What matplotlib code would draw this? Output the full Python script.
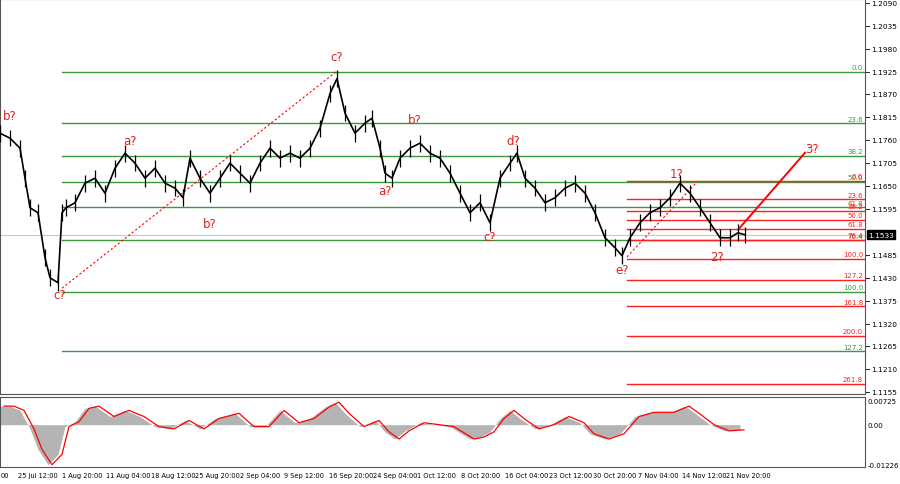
import matplotlib
matplotlib.use("Agg")
import matplotlib.pyplot as plt
import numpy as np

# price path (bar position in chart units, close price)
bar_pos = [0,10,20,25,30,38,45,50,58,62,66,75,85,95,105,115,125,135,145,155,165,175,183,190,200,210,220,230,240,250,260,270,280,290,300,310,320,330,337,345,355,365,372,380,385,392,400,410,420,430,440,450,460,470,480,490,500,510,517,525,535,545,555,565,575,585,595,605,615,622,630,640,650,660,670,680,690,700,710,720,730,738,745]
closes = [1.1777,1.1765,1.1741,1.1669,1.1598,1.1586,1.1478,1.1430,1.1418,1.1586,1.1598,1.1610,1.1657,1.1669,1.1633,1.1693,1.1729,1.1705,1.1669,1.1693,1.1657,1.1645,1.1622,1.1717,1.1669,1.1633,1.1669,1.1705,1.1681,1.1657,1.1705,1.1741,1.1717,1.1729,1.1717,1.1741,1.1789,1.1872,1.1908,1.1825,1.1777,1.1801,1.1813,1.1741,1.1681,1.1669,1.1717,1.1741,1.1753,1.1729,1.1717,1.1681,1.1633,1.1586,1.1610,1.1562,1.1669,1.1705,1.1729,1.1669,1.1645,1.1610,1.1622,1.1645,1.1657,1.1633,1.1586,1.1526,1.1502,1.1483,1.1526,1.1562,1.1586,1.1598,1.1622,1.1657,1.1633,1.1598,1.1562,1.1526,1.1526,1.1538,1.1533]

osc_pos = [0,10,20,30,38,48,58,65,75,85,95,110,125,140,155,170,185,200,215,235,250,265,280,295,310,325,335,345,360,375,385,395,405,420,435,450,460,470,480,490,500,510,520,535,550,565,580,590,605,620,635,650,670,685,695,710,725,740]
osc_vals = [0.0057,0.0057,0.0044,-0.0013,-0.0076,-0.0123,-0.0091,-0.0006,0.0009,0.0050,0.0057,0.0025,0.0044,0.0025,-0.0006,-0.0013,0.0013,-0.0013,0.0019,0.0035,-0.0006,-0.0006,0.0044,0.0006,0.0019,0.0054,0.0069,0.0035,-0.0006,0.0013,-0.0022,-0.0044,-0.0019,0.0006,0.0000,-0.0006,-0.0025,-0.0044,-0.0038,-0.0022,0.0019,0.0044,0.0019,-0.0013,0.0000,0.0025,0.0006,-0.0028,-0.0044,-0.0028,0.0025,0.0038,0.0038,0.0057,0.0035,0.0000,-0.0019,-0.0016]

fib_levels = [0.0,23.6,38.2,50.0,61.8,76.4,100.0,127.2]
fib_green_0, fib_green_100 = 1.1925, 1.1397
red_levels = [0.0,23.6,38.2,50.0,61.8,76.4,100.0,127.2,161.8,200.0,261.8]
fib_red_0, fib_red_100 = 1.1662, 1.1476

wave_labels = ["b?","c?","a?","b?","c?","a?","b?","c?","d?","e?","1?","2?","3?"]
wave_x = [10,60,130,210,337,385,415,490,513,622,677,717,812]
wave_y = [1.1820,1.1390,1.1760,1.1560,1.1960,1.1640,1.1810,1.1530,1.1760,1.1450,1.1680,1.1480,1.1740]

date_labels = ["25 Jul 12:00","1 Aug 20:00","11 Aug 04:00","18 Aug 12:00","25 Aug 20:00","2 Sep 04:00","9 Sep 12:00","16 Sep 20:00","24 Sep 04:00","1 Oct 12:00","8 Oct 20:00","16 Oct 04:00","23 Oct 12:00","30 Oct 20:00","7 Nov 04:00","14 Nov 12:00","21 Nov 20:00"]
date_pos = [18,62,106,151,195,240,284,329,373,417,461,505,549,593,638,682,726]

current = 1.1533
price_ticks = [1.2090,1.2035,1.1980,1.1925,1.1870,1.1815,1.1760,1.1705,1.1650,1.1595,1.1485,1.1430,1.1375,1.1320,1.1265,1.1210,1.1155]

fig = plt.figure(figsize=(9,4.85), dpi=100)
W, H = 900, 485
ax = fig.add_axes([0, 1-395/H, 865/W, 395/H])
ax2 = fig.add_axes([0, 1-468/H, 865/W, 70/H])
XMAX = 865
ax.set_xlim(0, XMAX); ax.set_ylim(1.1151, 1.2099)
ax2.set_xlim(0, XMAX); ax2.set_ylim(-0.0130, 0.0085)

bp = np.array(bar_pos); cl = np.array(closes)
ax.plot(bp, cl, color="black", lw=1.2, zorder=3)
ax.vlines(bp, cl-0.0020, cl+0.0020, color="black", lw=0.9, zorder=3)

for lv in fib_levels:
    p = fib_green_0 + (fib_green_100-fib_green_0)*lv/100
    ax.plot([62, XMAX], [p, p], color="#3a9a3a", lw=1.0, zorder=2)
    ax.text(XMAX-2, p+0.0004, f"{lv:.1f}", color="#3a9a3a", fontsize=5, ha="right", va="bottom")
for lv in red_levels:
    p = fib_red_0 + (fib_red_100-fib_red_0)*lv/100
    ax.plot([627, XMAX], [p, p], color="#ff2020", lw=1.0, zorder=2)
    ax.text(XMAX-2, p+0.0004, f"{lv:.1f}", color="#ff2020", fontsize=5, ha="right", va="bottom")

ax.axhline(current, color="#c8c8c8", lw=0.8, zorder=1)
ax.plot([bar_pos[9], 337], [1.1405, max(closes)+0.0018], color="red", lw=0.8, ls=(0,(2,2)))
ax.plot([627, 695], [1.1480, 1.1655], color="red", lw=0.8, ls=(0,(2,2)))
ax.plot([738, 805], [1.1545, 1.1730], color="red", lw=1.4)

for t, x, y in zip(wave_labels, wave_x, wave_y):
    ax.text(x, y, t, color="#e02020", fontsize=8.5, ha="center", va="center")

ax.set_xticks([]); ax.set_yticks([])
ax2.set_xticks([]); ax2.set_yticks([])

for t in price_ticks:
    fig.text(871/W, (t-1.1151)/(1.2099-1.1151)*395/H + (1-395/H), f"{t:.4f}", fontsize=5.3, va="center")
    ax.plot([XMAX, XMAX+4], [t, t], color="black", lw=0.6, clip_on=False)
fig.text(868/W, (current-1.1151)/(1.2099-1.1151)*395/H + (1-395/H), "1.1533", fontsize=5.3,
         va="center", color="white", bbox=dict(facecolor="black", edgecolor="black", pad=1))

op = np.array(osc_pos); ov = np.array(osc_vals)
ax2.fill_between(op, 0, ov, color="#b4b4b4", lw=0)
ax2.plot(op+4, ov, color="red", lw=0.9)
for v, s in [(0.00725, "0.00725"), (0.0, "0.00"), (-0.01226, "-0.01226")]:
    fig.text(868/W, (v+0.0130)/0.0215*70/H + (1-468/H), s, fontsize=5, va="center")

for lab, x in zip(date_labels, date_pos):
    fig.text(x/W, 1-476/H, lab, fontsize=4.8, va="center")
fig.text(0.5/W, 1-476/H, "00", fontsize=4.8, va="center")

for a in (ax, ax2):
    for s in a.spines.values():
        s.set_color("#555555"); s.set_linewidth(0.8)
fig.savefig("out.png", dpi=100)
